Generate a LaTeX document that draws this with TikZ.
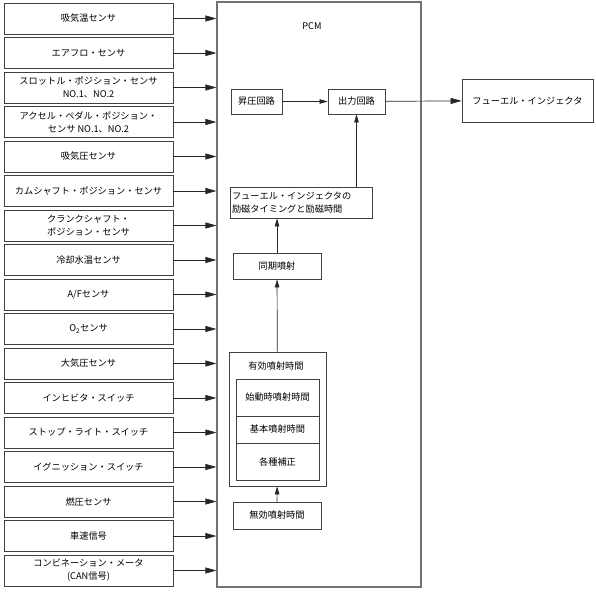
\documentclass[tikz,border=0pt]{standalone}
\usepackage{fontspec}
\setmainfont{Noto Sans CJK JP}
\usepackage{tikz}
\usetikzlibrary{positioning,arrows.meta}

\begin{document}
\begin{tikzpicture}[x=1pt, y=-1pt, >={Triangle[length=11pt,width=6pt]},
    every node/.style={font=\fontsize{9.2}{13}\selectfont, inner sep=2pt},
    sensor/.style={draw=black!75, line width=0.8pt, minimum width=169pt, minimum height=31pt, align=center},
    blk/.style={draw=black!75, line width=0.8pt, align=center},
    feed/.style={->, line width=0.7pt, black!85},
    inner/.style={-{Triangle[length=8pt,width=4.5pt]}, line width=0.7pt, black!85}]
    \useasboundingbox (0,0) rectangle (596,591);

    % PCM frame
    \node[draw=black!55, line width=1.2pt, minimum width=204pt, minimum height=585pt] (pcm) at (319,294.5) {};
    \node (pcmlbl) at (312,26) {PCM};

    % sensors (left column)
    \node[sensor] (s1) at (88.5,18.5) {吸気温センサ};
    \node[sensor] (s2) at (88.5,53) {エアフロ・センサ};
    \node[sensor] (s3) at (88.5,87.5) {スロットル・ポジション・センサ\\NO.1、NO.2};
    \node[sensor] (s4) at (88.5,122) {アクセル・ペダル・ポジション・\\センサ NO.1、NO.2};
    \node[sensor] (s5) at (88.5,156.5) {吸気圧センサ};
    \node[sensor] (s6) at (88.5,191) {カムシャフト・ポジション・センサ};
    \node[sensor] (s7) at (88.5,225.5) {クランクシャフト・\\ポジション・センサ};
    \node[sensor] (s8) at (88.5,260) {冷却水温センサ};
    \node[sensor] (s9) at (88.5,294.5) {A/Fセンサ};
    \node[sensor] (s10) at (88.5,329) {O\textsubscript{2}センサ};
    \node[sensor] (s11) at (88.5,363.5) {大気圧センサ};
    \node[sensor] (s12) at (88.5,398) {インヒビタ・スイッチ};
    \node[sensor] (s13) at (88.5,432.5) {ストップ・ライト・スイッチ};
    \node[sensor] (s14) at (88.5,467) {イグニッション・スイッチ};
    \node[sensor] (s15) at (88.5,501.5) {燃圧センサ};
    \node[sensor] (s16) at (88.5,536) {車速信号};
    \node[sensor] (s17) at (88.5,570.5) {コンビネーション・メータ\\(CAN信号)};

    % sensor inputs into PCM
    \draw[feed] (s1.east) -- (s1.east -| pcm.west);
    \draw[feed] (s2.east) -- (s2.east -| pcm.west);
    \draw[feed] (s3.east) -- (s3.east -| pcm.west);
    \draw[feed] (s4.east) -- (s4.east -| pcm.west);
    \draw[feed] (s5.east) -- (s5.east -| pcm.west);
    \draw[feed] (s6.east) -- (s6.east -| pcm.west);
    \draw[feed] (s7.east) -- (s7.east -| pcm.west);
    \draw[feed] (s8.east) -- (s8.east -| pcm.west);
    \draw[feed] (s9.east) -- (s9.east -| pcm.west);
    \draw[feed] (s10.east) -- (s10.east -| pcm.west);
    \draw[feed] (s11.east) -- (s11.east -| pcm.west);
    \draw[feed] (s12.east) -- (s12.east -| pcm.west);
    \draw[feed] (s13.east) -- (s13.east -| pcm.west);
    \draw[feed] (s14.east) -- (s14.east -| pcm.west);
    \draw[feed] (s15.east) -- (s15.east -| pcm.west);
    \draw[feed] (s16.east) -- (s16.east -| pcm.west);
    \draw[feed] (s17.east) -- (s17.east -| pcm.west);

    % inside PCM
    \node[blk, minimum width=51pt, minimum height=25pt] (boost) at (256.5,101.5) {昇圧回路};
    \node[blk, minimum width=57pt, minimum height=25pt] (outc) at (356.5,101.5) {出力回路};
    \node[blk, minimum width=131pt, minimum height=43pt] (inj) at (527.5,100.5) {フューエル・インジェクタ};
    \node[blk, align=left, text width=138pt, minimum height=31pt] (timing) at (301,202.5) {フューエル・インジェクタの\\励磁タイミングと励磁時間};
    \node[blk, minimum width=88pt, minimum height=26pt] (sync) at (277,266) {同期噴射};

    % effective injection time with its parts
    \node[blk, minimum width=97pt, minimum height=134pt] (eff) at (277.5,419) {};
    \node (efflbl) at (276,366) {有効噴射時間};
    \node[blk, minimum width=83pt, minimum height=37pt] (start) at (277.5,397.5) {始動時噴射時間};
    \node[blk, minimum width=83pt, minimum height=27pt] (base) at (277.5,429.5) {基本噴射時間};
    \node[blk, minimum width=83pt, minimum height=37pt] (corr) at (277.5,461.5) {各種補正};
    \node[blk, minimum width=88pt, minimum height=27pt] (inval) at (277,515.5) {無効噴射時間};

    % signal flow
    \draw[inner] (boost) -- (outc);
    \draw[feed] (outc) -- (inj);
    \draw[inner] (outc.south |- timing.north) -- (outc.south);
    \draw[inner] (sync) -- (timing.south -| sync.north);
    \draw[inner] (eff) -- (sync);
    \draw[inner] (inval) -- (eff);
\end{tikzpicture}
\end{document}
